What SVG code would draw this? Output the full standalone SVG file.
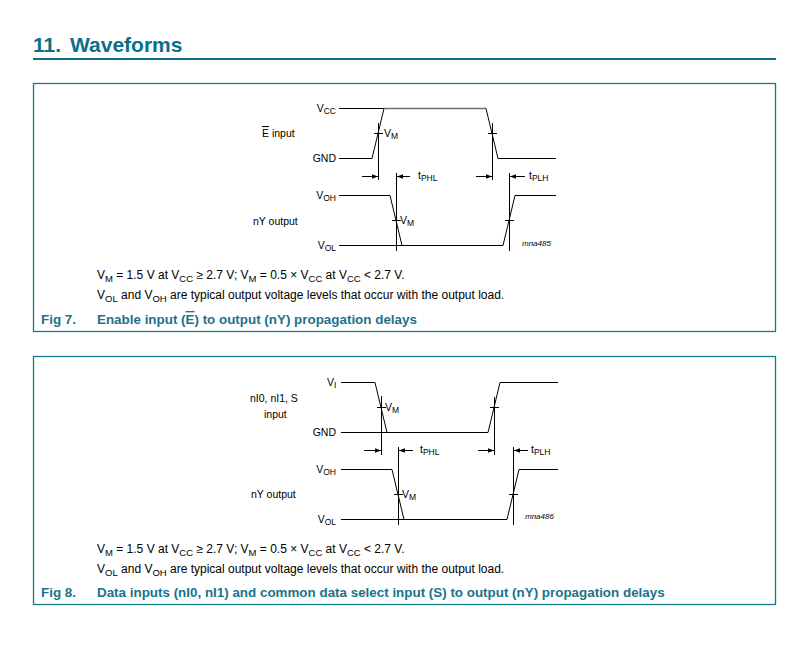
<svg xmlns="http://www.w3.org/2000/svg" width="811" height="660" viewBox="0 0 811 660">
<style>
.bg{fill:#fff}
.frame{fill:none;stroke:#147a8e;stroke-width:1.3}
.hdr{font-family:"Liberation Sans",Arial,sans-serif;font-weight:bold;font-size:21px;fill:#0b6f88}
.w{fill:none;stroke:#000;stroke-width:1}
.hi{fill:none;stroke:#6e6e6e;stroke-width:1.7}
.m{fill:none;stroke:#000;stroke-width:1}
.a{fill:none;stroke:#000;stroke-width:1;marker-end:url(#ah)}
.l{font-family:"Liberation Sans",Arial,sans-serif;font-size:10.5px;fill:#000}
.s{font-size:8.5px}
.ov{text-decoration:overline}
.id{font-family:"Liberation Sans",Arial,sans-serif;font-size:8px;font-style:italic;fill:#000}
.c{font-family:"Liberation Sans",Arial,sans-serif;font-size:12px;fill:#000}
.cs{font-size:9.5px}
.cap{font-family:"Liberation Sans",Arial,sans-serif;font-size:13.4px;font-weight:bold;fill:#1a7389}
</style>
<defs>
<marker id="ah" markerUnits="userSpaceOnUse" markerWidth="7" markerHeight="6" refX="6" refY="3" orient="auto">
<path d="M0,0.8 L6,3 L0,5.2 z" fill="#000"/>
</marker>
</defs>
<rect class="bg" x="0" y="0" width="811" height="660"/>

<g id="header">
<text class="hdr" x="33" y="52">11.</text>
<text class="hdr" x="70" y="52">Waveforms</text>
<line x1="33" y1="59" x2="776" y2="59" stroke="#0b6f88" stroke-width="2"/>
</g>

<!-- Figure 7 -->
<g id="fig7">
<rect class="frame" x="33.5" y="83.5" width="742" height="248"/>
<g id="fig7-input">
<path class="w" d="M339,158.5 H372 L384,108.5"/>
<path class="w" d="M339,108.5 H384"/>
<path class="hi" d="M384,108.5 H486"/>
<path class="w" d="M486,108.5 L498,158.5 H556"/>
<text class="l" x="336" y="112" text-anchor="end">V<tspan class="s" dy="2">CC</tspan></text>
<text class="l" x="336" y="162" text-anchor="end">GND</text>
<text class="l" x="262" y="137"><tspan class="ov">E</tspan>  input</text>
</g>
<g id="fig7-output">
<path class="w" d="M339,195.5 H390 L402,245.5"/>
<path class="w" d="M339,245.5 H503 L515,195.5 H556"/>
<text class="l" x="336" y="199" text-anchor="end">V<tspan class="s" dy="2">OH</tspan></text>
<text class="l" x="336" y="249" text-anchor="end">V<tspan class="s" dy="2">OL</tspan></text>
<text class="l" x="253" y="225">nY output</text>
<text class="id" x="522" y="246">mna485</text>
</g>
<g id="fig7-measure">
<path class="m" d="M378.5,123 V180 M374,133.5 H383"/>
<path class="m" d="M492.5,123 V180 M488,133.5 H497"/>
<path class="m" d="M396.5,173 V251 M392,220.5 H401"/>
<path class="m" d="M509.5,173 V251 M505,220.5 H514"/>
<text class="l" x="384" y="137">V<tspan class="s" dy="2">M</tspan></text>
<text class="l" x="400" y="224">V<tspan class="s" dy="2">M</tspan></text>
<text class="l" x="418" y="179">t<tspan class="s" dy="2">PHL</tspan></text>
<text class="l" x="529" y="179">t<tspan class="s" dy="2">PLH</tspan></text>
</g>
<g id="fig7-connectors">
<line class="a" x1="362" y1="176.5" x2="378" y2="176.5"/>
<line class="a" x1="410" y1="176.5" x2="397" y2="176.5"/>
<line class="a" x1="476" y1="176.5" x2="492" y2="176.5"/>
<line class="a" x1="525" y1="176.5" x2="510" y2="176.5"/>
</g>
<g id="fig7-notes">
<text class="c" x="97" y="279">V<tspan class="cs" dy="2.5">M</tspan><tspan dy="-2.5"> = 1.5 V at V</tspan><tspan class="cs" dy="2.5">CC</tspan><tspan dy="-2.5"> ≥ 2.7 V; V</tspan><tspan class="cs" dy="2.5">M</tspan><tspan dy="-2.5"> = 0.5 × V</tspan><tspan class="cs" dy="2.5">CC</tspan><tspan dy="-2.5"> at V</tspan><tspan class="cs" dy="2.5">CC</tspan><tspan dy="-2.5"> &lt; 2.7 V.</tspan></text>
<text class="c" x="97" y="299">V<tspan class="cs" dy="2.5">OL</tspan><tspan dy="-2.5"> and V</tspan><tspan class="cs" dy="2.5">OH</tspan><tspan dy="-2.5"> are typical output voltage levels that occur with the output load.</tspan></text>
<text class="cap" x="41" y="324">Fig 7.</text>
<text class="cap" x="97" y="324">Enable input (<tspan class="ov">E</tspan>) to output (nY) propagation delays</text>
</g>
</g>

<!-- Figure 8 -->
<g id="fig8">
<rect class="frame" x="33.5" y="356.5" width="742" height="248"/>
<g id="fig8-input">
<path class="w" d="M341,382.5 H375 L387,432.5"/>
<path class="w" d="M341,432.5 H488 L500,382.5 H558"/>
<text class="l" x="327" y="386">V<tspan class="s" dy="2">I</tspan></text>
<text class="l" x="336" y="436" text-anchor="end">GND</text>
<text class="l" x="250" y="402">nI0, nI1, S</text>
<text class="l" x="264" y="418">input</text>
</g>
<g id="fig8-output">
<path class="w" d="M341,469.5 H392 L404,519.5"/>
<path class="w" d="M341,519.5 H507 L519,469.5 H558"/>
<text class="l" x="336" y="473" text-anchor="end">V<tspan class="s" dy="2">OH</tspan></text>
<text class="l" x="336" y="523" text-anchor="end">V<tspan class="s" dy="2">OL</tspan></text>
<text class="l" x="251" y="498">nY output</text>
<text class="id" x="525" y="519">mna486</text>
</g>
<g id="fig8-measure">
<path class="m" d="M381.5,396 V455 M377,407.5 H386"/>
<path class="m" d="M494.5,397 V455 M490,407.5 H499"/>
<path class="m" d="M398.5,447 V525 M394,494.5 H403"/>
<path class="m" d="M513.5,447 V525 M509,494.5 H518"/>
<text class="l" x="385" y="411">V<tspan class="s" dy="2">M</tspan></text>
<text class="l" x="402" y="498">V<tspan class="s" dy="2">M</tspan></text>
<text class="l" x="420" y="453">t<tspan class="s" dy="2">PHL</tspan></text>
<text class="l" x="531" y="453">t<tspan class="s" dy="2">PLH</tspan></text>
</g>
<g id="fig8-connectors">
<line class="a" x1="364" y1="450.5" x2="381" y2="450.5"/>
<line class="a" x1="413" y1="450.5" x2="399" y2="450.5"/>
<line class="a" x1="478" y1="450.5" x2="494" y2="450.5"/>
<line class="a" x1="528" y1="450.5" x2="514" y2="450.5"/>
</g>
<g id="fig8-notes">
<text class="c" x="97" y="553">V<tspan class="cs" dy="2.5">M</tspan><tspan dy="-2.5"> = 1.5 V at V</tspan><tspan class="cs" dy="2.5">CC</tspan><tspan dy="-2.5"> ≥ 2.7 V; V</tspan><tspan class="cs" dy="2.5">M</tspan><tspan dy="-2.5"> = 0.5 × V</tspan><tspan class="cs" dy="2.5">CC</tspan><tspan dy="-2.5"> at V</tspan><tspan class="cs" dy="2.5">CC</tspan><tspan dy="-2.5"> &lt; 2.7 V.</tspan></text>
<text class="c" x="97" y="573">V<tspan class="cs" dy="2.5">OL</tspan><tspan dy="-2.5"> and V</tspan><tspan class="cs" dy="2.5">OH</tspan><tspan dy="-2.5"> are typical output voltage levels that occur with the output load.</tspan></text>
<text class="cap" x="41" y="597">Fig 8.</text>
<text class="cap" x="97" y="597">Data inputs (nI0, nI1) and common data select input (S) to output (nY) propagation delays</text>
</g>
</g>
</svg>
